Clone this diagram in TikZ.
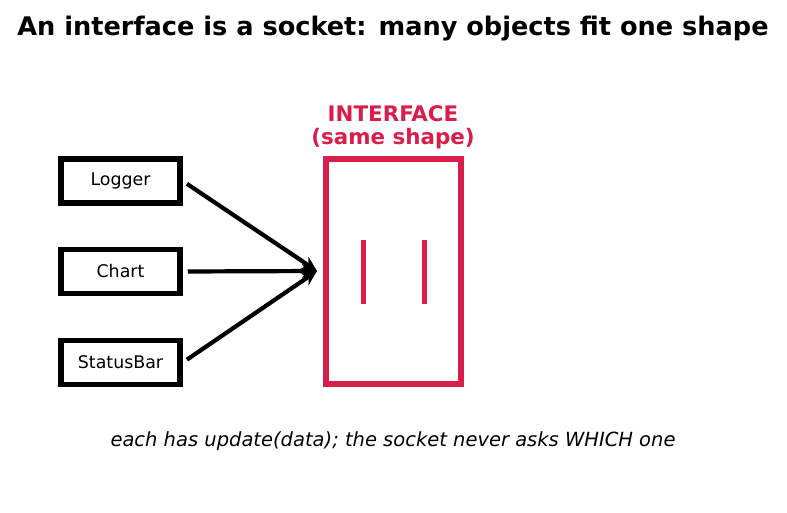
\documentclass[tikz,border=0pt]{standalone}
\usepackage{fontspec}
\setmainfont{DejaVu Sans}
\usetikzlibrary{arrows.meta}
\definecolor{sockred}{RGB}{218,30,76}
\tikzset{
  objbox/.style={draw=black, line width=5.5pt, minimum width=119pt, minimum height=44pt, inner sep=0pt, font=\fontsize{17.4}{20}\selectfont},
  plug/.style={draw=black, line width=4.2pt, -{Stealth[length=15pt,width=14pt]}, shorten <=5pt},
}
\begin{document}
\begin{tikzpicture}[x=1pt,y=-1pt]
\useasboundingbox (0,0) rectangle (787,512);
\node[font=\bfseries\fontsize{25.6}{28}\selectfont] (title) at (393,28.5) {An interface is a socket: many objects fit one shape};
\node[objbox] (logger) at (120.5,181) {Logger};
\node[objbox] (chart) at (120.5,271.5) {Chart};
\node[objbox] (status) at (120.5,362.5) {StatusBar};
\node[draw=sockred, line width=5.5pt, minimum width=135pt, minimum height=225pt, inner sep=0pt] (iface) at (393.5,271.5) {};
\node[text=sockred, font=\bfseries\fontsize{21.4}{23}\selectfont, align=center] (ilabel) at (393,127) {INTERFACE\\(same shape)};
\draw[sockred, line width=5pt] (363,240) -- (363,304);
\draw[sockred, line width=5pt] (424,240) -- (424,304);
\coordinate (tip) at (317,271);
\draw[plug] (logger.east) -- (tip);
\draw[plug] (chart.east) -- (tip);
\draw[plug] (status.east) -- (tip);
\node[font=\itshape\fontsize{19.5}{22}\selectfont] (caption) at (393,441.5) {each has update(data); the socket never asks WHICH one};
\end{tikzpicture}
\end{document}
